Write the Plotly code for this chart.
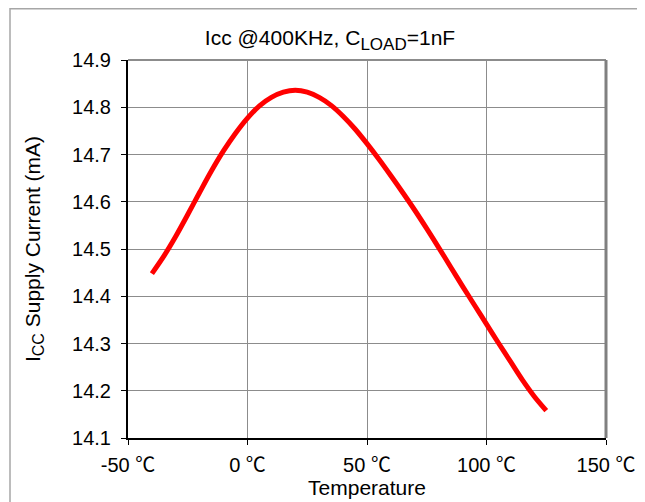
import plotly.graph_objects as go

temperature_c = [-40, -35, -30, -25, -20, -15, -10, -5, 0, 5, 10, 15, 20, 25, 30, 35, 40, 45, 50,
                 55, 60, 65, 70, 75, 80, 85, 90, 95, 100, 105, 110, 115, 120, 125]
icc_ma = [14.448, 14.485, 14.527, 14.573, 14.620, 14.666, 14.708, 14.745, 14.777, 14.803,
          14.821, 14.832, 14.836, 14.832, 14.821, 14.804, 14.781, 14.754, 14.723,
          14.690, 14.655, 14.619, 14.582, 14.543, 14.503, 14.462, 14.421, 14.381, 14.341,
          14.301, 14.262, 14.223, 14.188, 14.158]

x_tickvals = [-50, 0, 50, 100, 150]
x_ticktext = ["-50 ℃", "0 ℃", "50 ℃", "100 ℃", "150 ℃"]
y_tickvals = [14.1, 14.2, 14.3, 14.4, 14.5, 14.6, 14.7, 14.8, 14.9]
y_ticktext = ["14.1", "14.2", "14.3", "14.4", "14.5", "14.6", "14.7", "14.8", "14.9"]

# page body has an 8px margin; figure is sized so it fits the 645x502 window
OFF = 8
W, H = 645 - OFF, 502 - OFF
L, T = 128 - OFF, 60 - OFF
R = W - (606 - OFF)
B = H - (438 - OFF)
pw, ph = W - L - R, H - T - B

def px(x):
    return (x - L) / pw

def py(y):
    return (H - B - y) / ph

FONT = "Liberation Sans, Arial, Noto Sans CJK SC, sans-serif"

fig = go.Figure()
fig.add_trace(go.Scatter(
    x=temperature_c, y=icc_ma, mode="lines",
    line=dict(color="#ff0000", width=5, shape="spline", smoothing=0.8),
    showlegend=False, hoverinfo="x+y",
))

fig.update_layout(
    width=W, height=H,
    margin=dict(l=L, r=R, t=T, b=B, pad=0, autoexpand=False),
    paper_bgcolor="white", plot_bgcolor="white",
    font=dict(family=FONT, size=20, color="black"),
    title=dict(text="Icc @400KHz, C<sub><span style='font-size:17px'>LOAD</span></sub>=1nF",
               x=(330 - OFF) / W, xref="container",
               xanchor="center", y=1 - (38 - OFF) / H, yref="container", yanchor="middle",
               font=dict(size=21, family=FONT, color="black")),
    xaxis=dict(range=[-50, 150], tickvals=x_tickvals, ticktext=x_ticktext,
               showgrid=True, gridcolor="#8c8c8c", gridwidth=1,
               showline=True, linecolor="black", linewidth=2,
               ticks="outside", ticklen=5, tickcolor="black", tickwidth=1,
               ticklabelstandoff=3, automargin=False,
               zeroline=False, title=dict(text="Temperature", standoff=5,
                                          font=dict(size=21, family=FONT)),
               tickfont=dict(size=20, family=FONT)),
    yaxis=dict(range=[14.1, 14.9], tickvals=y_tickvals, ticktext=y_ticktext,
               showgrid=True, gridcolor="#8c8c8c", gridwidth=1,
               showline=True, linecolor="black", linewidth=2,
               ticks="outside", ticklen=5, tickcolor="black", tickwidth=1,
               ticklabelstandoff=6, automargin=False,
               zeroline=False,
               title=dict(text="I<sub><span style='font-size:16px'>CC</span></sub> Supply Current (mA)",
                          standoff=26, font=dict(size=21, family=FONT)),
               tickfont=dict(size=20, family=FONT)),
    shapes=[
        # outer frame (top & left visible)
        dict(type="line", xref="paper", yref="paper", x0=px(10 - OFF), x1=px(700), y0=py(0.75), y1=py(0.75),
             line=dict(color="#a6a6a6", width=1.5)),
        dict(type="line", xref="paper", yref="paper", x0=px(10 - OFF), x1=px(10 - OFF), y0=py(0), y1=py(560),
             line=dict(color="#a6a6a6", width=1.5)),
        # plot area top & right border
        dict(type="line", xref="paper", yref="paper", x0=0, x1=1, y0=1, y1=1,
             line=dict(color="#8c8c8c", width=2)),
        dict(type="line", xref="paper", yref="paper", x0=1, x1=1, y0=0, y1=1,
             line=dict(color="#808080", width=3)),
    ],
)

fig.write_html("out.html")
